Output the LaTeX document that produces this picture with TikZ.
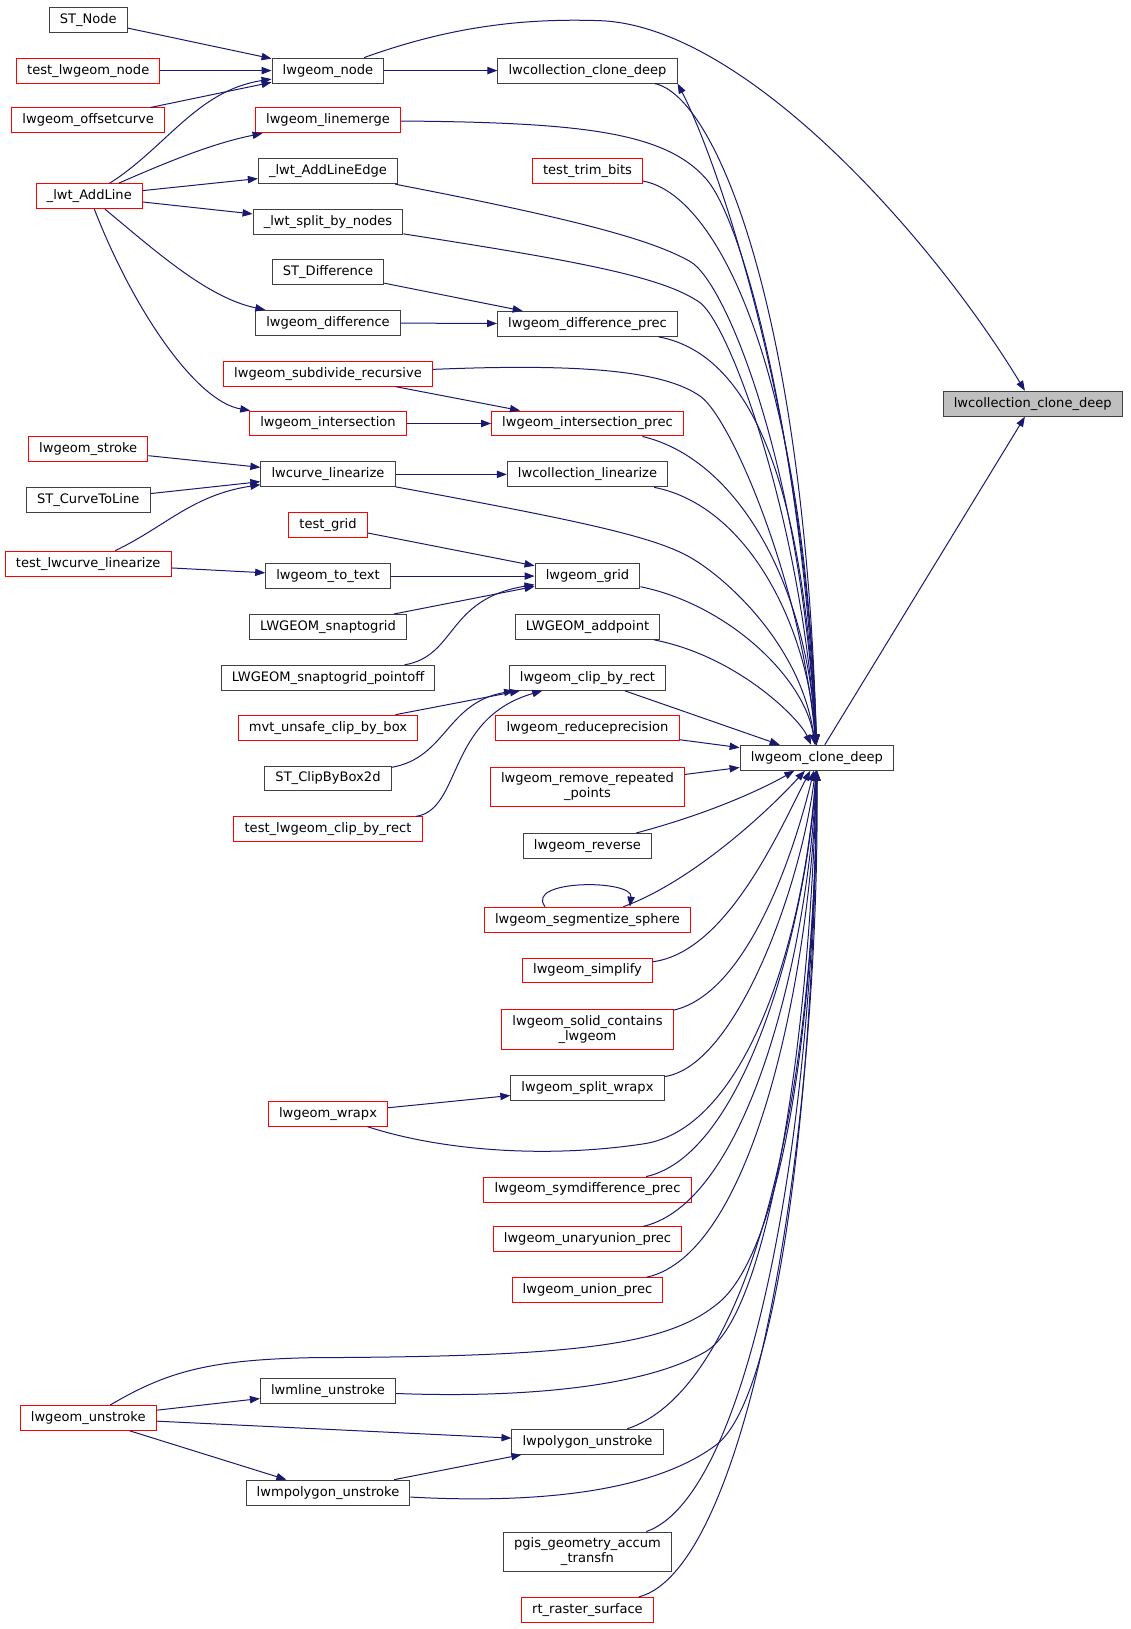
\documentclass[tikz,border=0pt]{standalone}
\usepackage{fontspec}
\setmainfont{DejaVu Sans}
\usetikzlibrary{arrows.meta}
\definecolor{edgeblue}{HTML}{191970}
\definecolor{boxline}{HTML}{404040}
\definecolor{rootfill}{HTML}{BFBFBF}
\begin{document}
\begin{tikzpicture}[x=0.7785pt,y=-0.7785pt,
    fn/.style={draw=boxline,line width=0.75pt,fill=white,inner xsep=8pt,inner ysep=2pt,
      minimum height=18.7pt,font=\fontsize{9.8}{11.2}\selectfont},
    fnred/.style={fn,draw=red},
    twoline/.style={align=center,minimum height=29.6pt},
    call/.style={draw=edgeblue,line width=0.75pt,-{Triangle[length=7.5pt,width=5.5pt]}}]
  \useasboundingbox (0,-2) rectangle (1089.6,1567.4);
  % callers, far left
  \node[fn]    (stnode)  at (85,17)   {ST\_Node};
  \node[fnred] (tln)     at (85,66)   {test\_lwgeom\_node};
  \node[fnred] (offc)    at (85,114)  {lwgeom\_offsetcurve};
  \node[fnred] (addline) at (86,187)  {\_lwt\_AddLine};
  \node[fnred] (stroke)  at (85,431)  {lwgeom\_stroke};
  \node[fn]    (c2l)     at (85,480)  {ST\_CurveToLine};
  \node[fnred] (tlcl)    at (85,541)  {test\_lwcurve\_linearize};
  \node[fnred] (unstroke) at (85,1364) {lwgeom\_unstroke};
  % second column
  \node[fn]    (node)    at (316,66)  {lwgeom\_node};
  \node[fnred] (merge)   at (316,114) {lwgeom\_linemerge};
  \node[fn]    (addedge) at (316,163) {\_lwt\_AddLineEdge};
  \node[fn]    (split)   at (316,212) {\_lwt\_split\_by\_nodes};
  \node[fn]    (stdiff)  at (316,260) {ST\_Difference};
  \node[fn]    (diff)    at (316,309) {lwgeom\_difference};
  \node[fnred] (subdiv)  at (316,358) {lwgeom\_subdivide\_recursive};
  \node[fnred] (inter)   at (316,406) {lwgeom\_intersection};
  \node[fn]    (lin)     at (316,455) {lwcurve\_linearize};
  \node[fnred] (tgrid)   at (316,504) {test\_grid};
  \node[fn]    (totext)  at (316,553) {lwgeom\_to\_text};
  \node[fn]    (snap)    at (316,602) {LWGEOM\_snaptogrid};
  \node[fn]    (snappo)  at (316,651) {LWGEOM\_snaptogrid\_pointoff};
  \node[fnred] (mvt)     at (316,699) {mvt\_unsafe\_clip\_by\_box};
  \node[fn]    (clipbox) at (316,748) {ST\_ClipByBox2d};
  \node[fnred] (tclip)   at (316,797) {test\_lwgeom\_clip\_by\_rect};
  \node[fnred] (wrapx)   at (316,1071) {lwgeom\_wrapx};
  \node[fn]    (mline)   at (316,1338) {lwmline\_unstroke};
  \node[fn]    (mpoly)   at (316,1436) {lwmpolygon\_unstroke};
  % third column
  \node[fn]    (lcc)     at (566,66)  {lwcollection\_clone\_deep};
  \node[fnred] (trim)    at (566,163) {test\_trim\_bits};
  \node[fn]    (diffp)   at (566,310) {lwgeom\_difference\_prec};
  \node[fnred] (interp)  at (566,406) {lwgeom\_intersection\_prec};
  \node[fn]    (clin)    at (566,455) {lwcollection\_linearize};
  \node[fn]    (grid)    at (566,553) {lwgeom\_grid};
  \node[fn]    (addpt)   at (566,602) {LWGEOM\_addpoint};
  \node[fn]    (clip)    at (566,651) {lwgeom\_clip\_by\_rect};
  \node[fnred] (reduce)  at (566,699) {lwgeom\_reduceprecision};
  \node[fnred,twoline] (rmrep) at (566,756) {lwgeom\_remove\_repeated\\\_points};
  \node[fn]    (rev)     at (566,813) {lwgeom\_reverse};
  \node[fnred] (segsph)  at (566,884) {lwgeom\_segmentize\_sphere};
  \node[fnred] (simp)    at (566,933) {lwgeom\_simplify};
  \node[fnred,twoline] (solid) at (566,990) {lwgeom\_solid\_contains\\\_lwgeom};
  \node[fn]    (splitw)  at (566,1046) {lwgeom\_split\_wrapx};
  \node[fnred] (symd)    at (566,1144) {lwgeom\_symdifference\_prec};
  \node[fnred] (unary)   at (566,1192) {lwgeom\_unaryunion\_prec};
  \node[fnred] (unionp)  at (566,1241) {lwgeom\_union\_prec};
  \node[fn]    (poly)    at (566,1387) {lwpolygon\_unstroke};
  \node[fn,twoline] (pgis) at (566,1493) {pgis\_geometry\_accum\\\_transfn};
  \node[fnred] (rtsurf)  at (566,1549) {rt\_raster\_surface};
  % clone functions
  \node[fn] (cd)   at (787,728) {lwgeom\_clone\_deep};
  \node[fn,fill=rootfill] (root) at (995,387) {lwcollection\_clone\_deep};

  % straight calls
  \foreach \a/\b in {stnode/node, tln/node, offc/node, addline/addedge, addline/split,
      stroke/lin, c2l/lin, tlcl/totext, node/lcc, stdiff/diffp, diff/diffp,
      subdiv/interp, inter/interp, lin/clin, tgrid/grid, totext/grid, snap/grid,
      mvt/clip, wrapx/splitw, unstroke/mline, unstroke/poly, unstroke/mpoly,
      mpoly/poly, clip/cd, reduce/cd, rmrep/cd, cd/root}
    \draw[call] (\a) -- (\b);

  % bent calls on the left
  \draw[call] (addline) .. controls (160,140) and (190,85) .. (node);
  \draw[call] (addline) .. controls (170,150) and (210,135) .. (merge);
  \draw[call] (addline) .. controls (150,240) and (200,285) .. (diff);
  \draw[call] (addline) .. controls (130,300) and (190,385) .. (inter);
  \draw[call] (tlcl) .. controls (160,505) and (185,475) .. (lin);
  \draw[call] (snappo) .. controls (440,630) and (430,575) .. (grid);
  \draw[call] (clipbox) .. controls (430,728) and (430,675) .. (clip);
  \draw[call] (tclip) .. controls (445,778) and (430,690) .. (clip);
  \draw[call] (segsph.163) .. controls (505,845) and (610,845) .. (segsph.17);

  % into lwgeom_clone_deep from above
  \draw[call] (lcc) .. controls (690,90) and (775,300) .. (cd);
  \draw[call] (merge) .. controls (560,116) and (640,125) .. (680,170)
    .. controls (720,215) and (775,450) .. (cd);
  \draw[call] (trim) .. controls (690,185) and (775,350) .. (cd);
  \draw[call] (addedge) .. controls (560,210) and (630,230) .. (665,250)
    .. controls (700,270) and (772,450) .. (cd);
  \draw[call] (split) .. controls (560,250) and (640,265) .. (675,290)
    .. controls (705,315) and (772,500) .. (cd);
  \draw[call] (diffp) .. controls (730,340) and (775,480) .. (cd);
  \draw[call] (subdiv) .. controls (560,348) and (640,355) .. (675,380)
    .. controls (705,402) and (772,560) .. (cd);
  \draw[call] (interp) .. controls (710,440) and (778,560) .. (cd);
  \draw[call] (lin) .. controls (560,500) and (630,515) .. (665,535)
    .. controls (700,555) and (772,620) .. (cd);
  \draw[call] (clin) .. controls (720,485) and (778,600) .. (cd);
  \draw[call] (grid) .. controls (700,580) and (775,650) .. (cd);
  \draw[call] (addpt) .. controls (710,630) and (770,690) .. (cd);

  % into lwgeom_clone_deep from below
  \draw[call] (rev) .. controls (690,780) and (740,755) .. (cd);
  \draw[call] (segsph) .. controls (660,850) and (730,790) .. (cd);
  \draw[call] (simp) .. controls (700,915) and (750,800) .. (cd);
  \draw[call] (solid) .. controls (720,955) and (765,820) .. (cd);
  \draw[call] (splitw) .. controls (710,1025) and (772,850) .. (cd);
  \draw[call] (wrapx) .. controls (420,1105) and (520,1115) .. (620,1100)
    .. controls (720,1085) and (775,900) .. (cd);
  \draw[call] (symd) .. controls (720,1110) and (778,880) .. (cd);
  \draw[call] (unary) .. controls (725,1155) and (780,900) .. (cd);
  \draw[call] (unionp) .. controls (730,1205) and (782,920) .. (cd);
  \draw[call] (unstroke) .. controls (160,1320) and (200,1308) .. (300,1306)
    .. controls (550,1305) and (640,1295) .. (690,1255)
    .. controls (750,1210) and (785,1000) .. (cd);
  \draw[call] (mline) .. controls (500,1345) and (620,1335) .. (680,1300)
    .. controls (740,1265) and (780,1000) .. (cd);
  \draw[call] (poly) .. controls (710,1340) and (785,1100) .. (cd);
  \draw[call] (mpoly) .. controls (520,1447) and (630,1435) .. (690,1390)
    .. controls (750,1345) and (785,1050) .. (cd);
  \draw[call] (pgis) .. controls (720,1440) and (785,1100) .. (cd);
  \draw[call] (rtsurf) .. controls (720,1510) and (790,1100) .. (cd);

  % out to lwcollection_clone_deep
  \draw[call] (cd) .. controls (778,400) and (690,150) .. (lcc.south east);
  \draw[call] (node) .. controls (430,25) and (500,15) .. (580,18)
    .. controls (720,25) and (900,230) .. (root);
\end{tikzpicture}
\end{document}
